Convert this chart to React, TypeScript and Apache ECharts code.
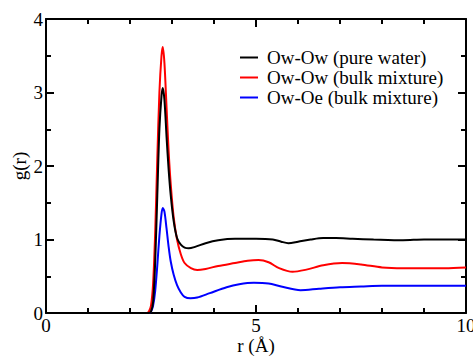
import React, { useEffect, useRef } from "react";
import * as echarts from "echarts";

const seriesNames = ["Ow-Ow (pure water)", "Ow-Ow (bulk mixture)", "Ow-Oe (bulk mixture)"];
const seriesColors = ["#000000", "#ff0000", "#0000ff"];

const pureWater: [number, number][] = [
  [0, 0], [2.45, 0], [2.5, 0.02], [2.55, 0.15], [2.6, 0.7], [2.65, 1.6], [2.7, 2.5], [2.75, 2.95],
  [2.78, 3.06], [2.82, 2.9], [2.87, 2.4], [2.92, 1.95], [2.97, 1.6], [3.04, 1.25], [3.12, 1.02],
  [3.21, 0.93], [3.3, 0.89], [3.4, 0.88], [3.55, 0.9], [3.8, 0.95], [4.1, 0.99], [4.5, 1.01],
  [5.0, 1.01], [5.4, 1.0], [5.6, 0.97], [5.77, 0.95], [6.0, 0.97], [6.3, 1.0], [6.6, 1.02],
  [6.9, 1.02], [7.3, 1.01], [7.8, 1.0], [8.5, 0.99], [9, 1.0], [9.5, 1.0], [10, 1.0],
];

const bulkOwOw: [number, number][] = [
  [0, 0], [2.4, 0], [2.45, 0.02], [2.5, 0.1], [2.55, 0.4], [2.6, 1.1], [2.65, 2.1], [2.7, 3.0],
  [2.75, 3.5], [2.78, 3.62], [2.82, 3.4], [2.87, 2.8], [2.92, 2.2], [2.97, 1.75], [3.04, 1.3],
  [3.12, 1.0], [3.21, 0.8], [3.3, 0.68], [3.45, 0.61], [3.6, 0.585], [3.8, 0.6], [4.1, 0.64],
  [4.5, 0.68], [4.8, 0.71], [5.06, 0.72], [5.3, 0.69], [5.55, 0.61], [5.87, 0.56], [6.2, 0.59],
  [6.6, 0.65], [7.05, 0.68], [7.5, 0.66], [8.0, 0.62], [8.5, 0.61], [9, 0.61], [9.5, 0.61], [10, 0.62],
];

const bulkOwOe: [number, number][] = [
  [0, 0], [2.45, 0], [2.5, 0.02], [2.55, 0.1], [2.6, 0.3], [2.65, 0.65], [2.7, 1.05], [2.75, 1.35],
  [2.78, 1.43], [2.82, 1.38], [2.87, 1.15], [2.92, 0.9], [2.97, 0.7], [3.04, 0.52], [3.12, 0.38],
  [3.21, 0.28], [3.3, 0.22], [3.44, 0.2], [3.6, 0.21], [3.9, 0.27], [4.3, 0.35], [4.6, 0.39],
  [4.95, 0.41], [5.3, 0.4], [5.6, 0.36], [6.06, 0.31], [6.5, 0.33], [7.0, 0.35], [7.5, 0.36],
  [8, 0.37], [9, 0.37], [10, 0.37],
];

const seriesData = [pureWater, bulkOwOw, bulkOwOe];

const FONT = "Liberation Serif";

export default function App() {
  const ref = useRef<HTMLDivElement>(null);
  useEffect(() => {
    if (!ref.current) return;
    const chart = echarts.init(ref.current, undefined, { renderer: "svg" });
    const axisLine = { show: true, onZero: false, lineStyle: { color: "#000", width: 2 } };
    const tick = { show: true, inside: true, length: 8, lineStyle: { color: "#000", width: 2 } };
    const minorX = { show: true, splitNumber: 5, length: 5, lineStyle: { color: "#000", width: 2 } };
    const minorY = { show: true, splitNumber: 2, length: 5, lineStyle: { color: "#000", width: 2 } };
    chart.setOption({
      animation: false,
      backgroundColor: "#fff",
      textStyle: { fontFamily: FONT },
      grid: { left: 46, right: 7, top: 19, bottom: 43, outerBoundsMode: "none", containLabel: false },
      legend: {
        orient: "vertical",
        left: 235,
        top: 43,
        itemWidth: 18,
        itemHeight: 2,
        itemGap: 1,
        icon: "rect",
        textStyle: { fontFamily: FONT, fontSize: 19, lineHeight: 19, color: "#000", padding: [0, 0, 0, 4] },
        data: seriesNames,
      },
      xAxis: [
        {
          type: "value", min: 0, max: 10, interval: 5,
          axisLine, axisTick: tick, minorTick: minorX, splitLine: { show: false }, minorSplitLine: { show: false },
          axisLabel: { fontFamily: FONT, fontSize: 19, color: "#000", margin: 3 },
          name: "r (Å)", nameLocation: "middle", nameGap: 23, nameMoveOverlap: false,
          nameTextStyle: { fontFamily: FONT, fontSize: 19, color: "#000" },
        },
        {
          type: "value", min: 0, max: 10, interval: 5, position: "top",
          axisLine, axisTick: tick, minorTick: minorX, splitLine: { show: false },
          axisLabel: { show: false },
        },
      ],
      yAxis: [
        {
          type: "value", min: 0, max: 4, interval: 1,
          axisLine, axisTick: tick, minorTick: minorY, splitLine: { show: false },
          axisLabel: { fontFamily: FONT, fontSize: 19, color: "#000", margin: 3 },
          name: "g(r)", nameLocation: "middle", nameGap: 17, nameMoveOverlap: false,
          nameTextStyle: { fontFamily: FONT, fontSize: 19, color: "#000" },
        },
        {
          type: "value", min: 0, max: 4, interval: 1, position: "right",
          axisLine, axisTick: tick, minorTick: minorY, splitLine: { show: false },
          axisLabel: { show: false },
        },
      ],
      series: seriesData.map((d, i) => ({
        name: seriesNames[i],
        type: "line",
        data: d,
        smooth: 0.3,
        showSymbol: false,
        symbol: "none",
        color: seriesColors[i],
        lineStyle: { color: seriesColors[i], width: 2 },
        xAxisIndex: 0,
        yAxisIndex: 0,
        z: 3 - i,
      })),
    });
    return () => chart.dispose();
  }, []);
  return <div ref={ref} style={{ width: 473, height: 356, position: "absolute", left: 0, top: 0 }} />;
}
